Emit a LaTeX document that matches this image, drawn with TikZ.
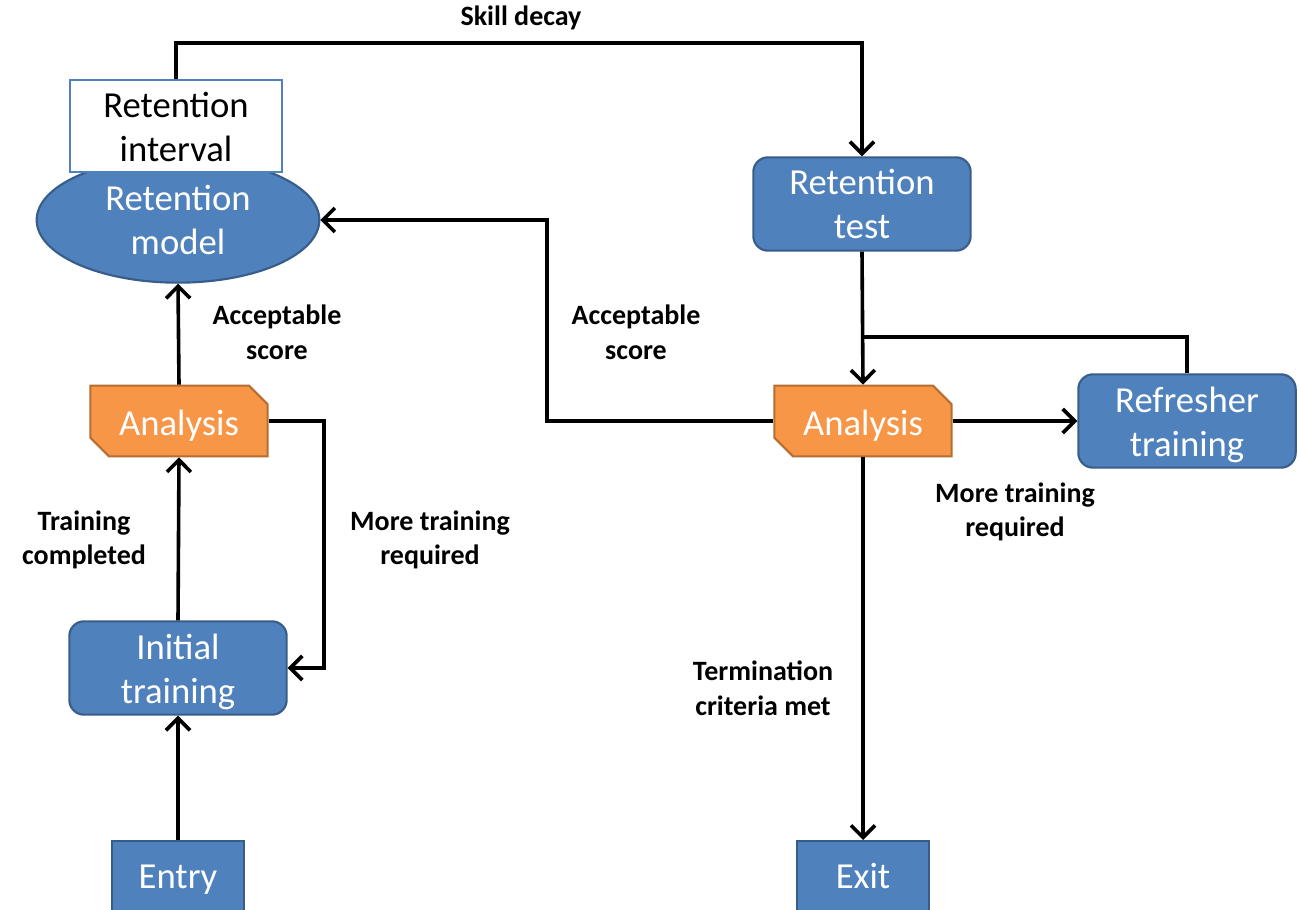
\documentclass[tikz,border=0pt]{standalone}
\usepackage{fontspec}
\setmainfont{Carlito}
\usetikzlibrary{arrows.meta,shapes.geometric,shapes.misc}
\definecolor{bfill}{HTML}{4F81BD}
\definecolor{bdraw}{HTML}{385D8A}
\definecolor{ofill}{HTML}{F79646}
\definecolor{odraw}{HTML}{B66D31}
\newcommand\twoline[3]{\raisebox{#1}[\height][\depth]{\begin{tabular}{@{}c@{}}#2\\#3\end{tabular}}}
\newcommand\oneline[2]{\raisebox{#1}[\height][\depth]{#2}}
\tikzset{
  base/.style={inner sep=0pt, align=center, text=white, line width=1.6pt,
    font=\fontsize{27.5}{33}\selectfont},
  bluebox/.style={base, draw=bdraw, fill=bfill, rounded corners=11pt,
    minimum width=163pt, minimum height=70pt},
  termbox/.style={base, draw=bdraw, fill=bfill, minimum width=99pt, minimum height=57pt,
    text height=20pt, text depth=6pt},
  anabox/.style={base, draw=odraw, fill=ofill, chamfered rectangle,
    chamfered rectangle corners={north east,south west},
    chamfered rectangle xsep=7pt, chamfered rectangle ysep=7pt,
    minimum width=133pt, minimum height=53pt},
  modelell/.style={base, draw=bdraw, fill=bfill, ellipse, minimum width=212pt, minimum height=94pt},
  intbox/.style={base, text=black, draw=bfill, fill=white, minimum width=159pt, minimum height=69pt},
  lbl/.style={align=center, font=\bfseries\fontsize{21}{26}\selectfont, inner sep=0pt},
  conn/.style={line width=2.7pt, -{Straight Barb[length=9pt,width=18pt,line width=2.7pt]}},
  plain/.style={line width=2.7pt},
}
\begin{document}
\begin{tikzpicture}[x=0.75pt,y=-0.75pt]
\useasboundingbox (0,0) rectangle (1299,910);
% nodes
\node[modelell] (model) at (178,220) {Retention\\model};
\node[intbox] (interval) at (176,126) {\twoline{-3.75pt}{Retention}{interval}};
\node[bluebox] (rtest) at (862,204) {Retention\\test};
\node[anabox] (ana1) at (179,421) {\oneline{-3.75pt}{Analysis}};
\node[anabox] (ana2) at (863,421) {\oneline{-3.75pt}{Analysis}};
\node[bluebox] (refresh) at (1187,421) {\twoline{-3.75pt}{Refresher}{training}};
\node[bluebox] (init) at (178,668) {\twoline{-3.75pt}{Initial}{training}};
\node[termbox, anchor=north] (entry) at (178,840) {Entry};
\node[termbox, anchor=north] (exit) at (863,840) {Exit};
% coordinates
\coordinate (sk1) at (176,43);
\coordinate (sk2) at (862,43);
\coordinate (mt1) at (324,421);
\coordinate (mt2) at (324,668);
\coordinate (rf1) at (1187,337);
\coordinate (rf2) at (862,337);
\coordinate (ac1) at (547,421);
\coordinate (ac2) at (547,220);
% connectors
\draw[conn] (interval.north) -- (sk1) -- (sk2) -- (rtest.north);
\draw[conn] (ana1.north) -- (model.south);
\draw[conn] (ana1.east) -- (mt1) -- (mt2) -- (init.east);
\draw[conn] (init.north) -- (ana1.south);
\draw[conn] (entry.north) -- (init.south);
\draw[conn] (rtest.south) -- (ana2.north);
\draw[plain] (refresh.north) -- (rf1) -- (rf2);
\draw[conn] (ana2.west) -- (ac1) -- (ac2) -- (model.east);
\draw[conn] (ana2.east) -- (refresh.west);
\draw[conn] (ana2.south) -- (exit.north);
% labels
\node[lbl] (l1) at (521,18) {Skill decay};
\node[lbl] (l2) at (277,332) {Acceptable\\score};
\node[lbl] (l3) at (636,332) {Acceptable\\score};
\node[lbl] (l4) at (430,540) {More training\\required};
\node[lbl] (l5) at (84,540) {Training\\completed};
\node[lbl] (l6) at (1015,512) {More training\\required};
\node[lbl] (l7) at (763,688) {Termination\\criteria met};
\end{tikzpicture}
\end{document}
